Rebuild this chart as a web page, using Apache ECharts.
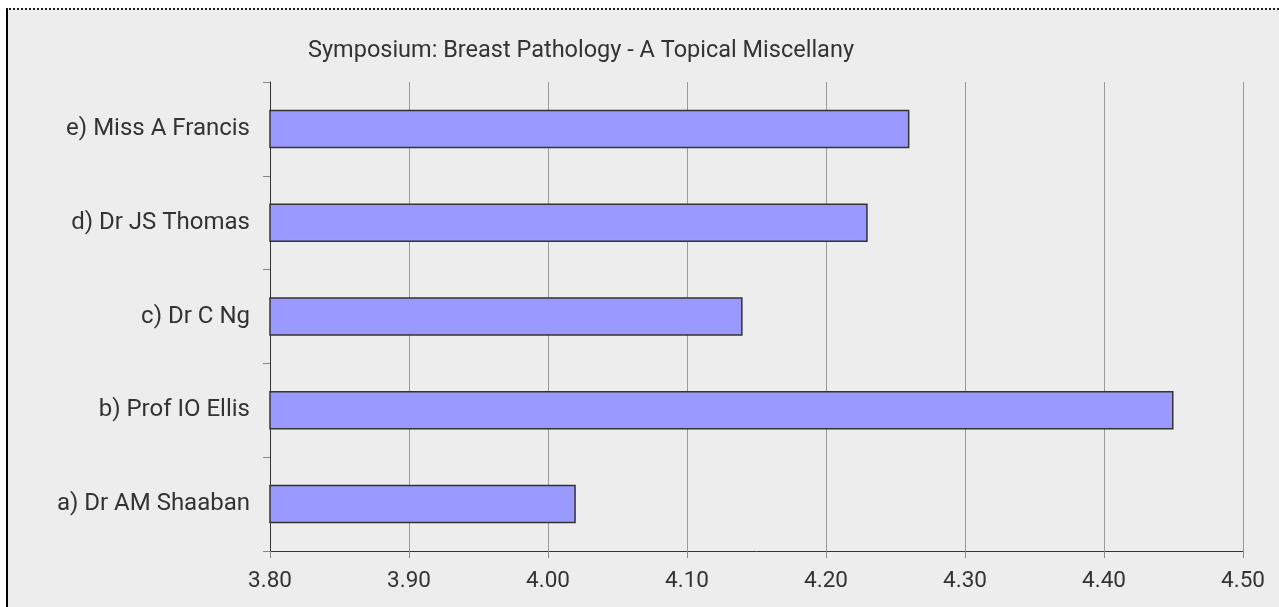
<!DOCTYPE html>
<html>
<head>
<meta charset="utf-8">
<script src="https://cdn.jsdelivr.net/npm/echarts@6/dist/echarts.min.js"></script>
<style>
  html, body { margin: 0; padding: 0; background: #ffffff; width: 1279px; height: 607px; overflow: hidden; }
  #frame { position: absolute; left: 6px; top: 8px; width: 1273px; height: 599px; background: #ededed;
           border-left: 2px solid #000; border-top: 2px dotted #222; box-sizing: border-box; }
  #chart { position: absolute; left: 0; top: 0; width: 1279px; height: 607px; }
</style>
</head>
<body>
<div id="frame"></div>
<div id="chart"></div>
<script>
const titleText = 'Symposium: Breast Pathology - A Topical Miscellany';
const categories = ['a) Dr AM Shaaban', 'b) Prof IO Ellis', 'c) Dr C Ng', 'd) Dr JS Thomas', 'e) Miss A Francis'];
const scores = [4.02, 4.45, 4.14, 4.23, 4.26];
const axisMin = 3.8, axisMax = 4.5, axisStep = 0.1;

const chart = echarts.init(document.getElementById('chart'), null, { renderer: 'canvas' });
chart.setOption({
  backgroundColor: 'transparent',
  animation: false,
  title: {
    text: titleText,
    left: 576, top: 34, textAlign: 'center',
    textStyle: { fontFamily: 'Roboto', fontSize: 23.5, fontWeight: 'normal', color: '#333' }
  },
  grid: { left: 270, right: 36, top: 82, bottom: 56, containLabel: false },
  xAxis: {
    type: 'value', min: axisMin, max: axisMax, interval: axisStep,
    axisLine: { show: true, lineStyle: { color: '#333', width: 1 } },
    axisTick: { show: true, length: 7, lineStyle: { color: '#888' } },
    axisLabel: { margin: 19, fontFamily: 'Roboto', fontSize: 22.5, color: '#333',
                 formatter: v => v.toFixed(2) },
    splitLine: { show: true, lineStyle: { color: '#999', width: 1 } }
  },
  yAxis: {
    type: 'category', data: categories,
    axisLine: { show: true, lineStyle: { color: '#333', width: 1 } },
    axisTick: { show: true, length: 7, alignWithLabel: false, lineStyle: { color: '#888' } },
    axisLabel: { margin: 20, fontFamily: 'Roboto', fontSize: 24, color: '#333' },
    splitLine: { show: false }
  },
  series: [{
    type: 'bar', data: scores, barCategoryGap: '59%',
    itemStyle: { color: '#9999ff', borderColor: '#333', borderWidth: 1.5 }
  }]
});
</script>
</body>
</html>
